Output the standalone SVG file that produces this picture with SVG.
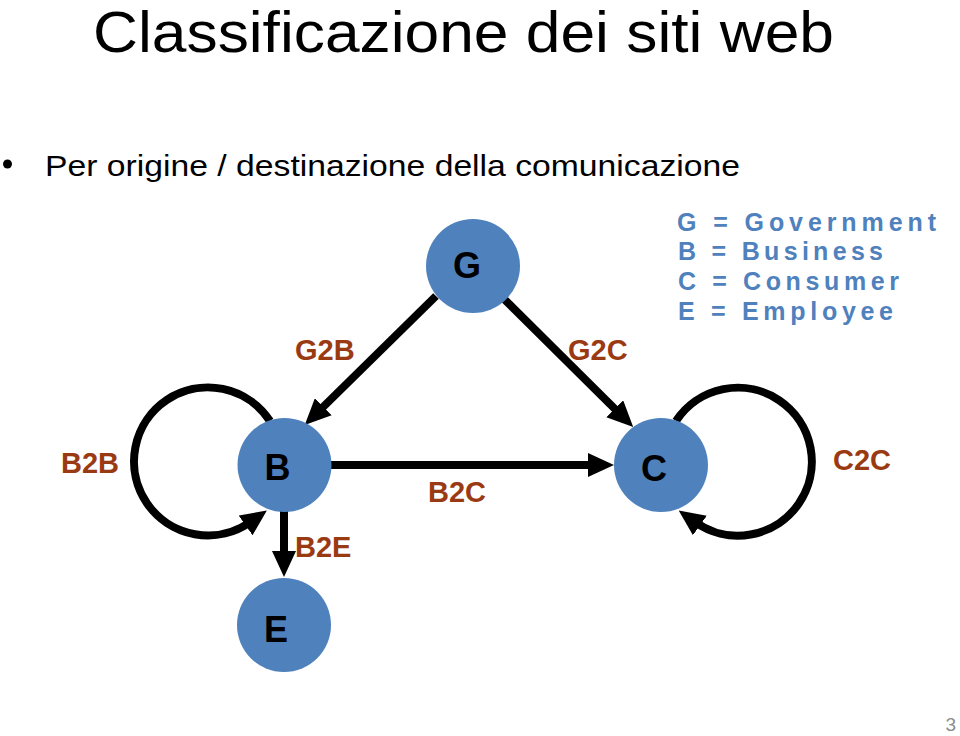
<svg xmlns="http://www.w3.org/2000/svg" width="960" height="736" viewBox="0 0 960 736">
<style>
.node{fill:#4f81bd}
.nl{font-family:"Liberation Sans",Arial,sans-serif;font-weight:bold;font-size:36px;fill:#000;text-anchor:middle}
.lab{font-family:"Liberation Sans",Arial,sans-serif;font-weight:bold;font-size:29px;fill:#9a3a12}
.leg{font-family:"Liberation Sans",Arial,sans-serif;font-weight:bold;font-size:25px;fill:#4f81bd}
.edge{fill:none;stroke:#000;stroke-width:8}
.txt{font-family:"Liberation Sans",Arial,sans-serif;fill:#000}
</style>
<defs>
<marker id="ah" markerUnits="userSpaceOnUse" viewBox="0 0 26 24" markerWidth="26" markerHeight="24" refX="6" refY="12" orient="auto">
<path d="M0,0 L26,12 L0,24 z" fill="#000"/>
</marker>
</defs>
<rect width="960" height="736" fill="#fff"/>
<text class="txt" x="93" y="52" font-size="57" textLength="741" lengthAdjust="spacingAndGlyphs">Classificazione dei siti web</text>
<circle cx="7.5" cy="164" r="4.5" fill="#000"/>
<text class="txt" x="45" y="176" font-size="30" textLength="695" lengthAdjust="spacingAndGlyphs">Per origine / destinazione della comunicazione</text>
<g id="legend">
<text class="leg" x="677" y="231" textLength="259" lengthAdjust="spacing">G = Government</text>
<text class="leg" x="678" y="260" textLength="205" lengthAdjust="spacing">B = Business</text>
<text class="leg" x="678" y="290" textLength="221" lengthAdjust="spacing">C = Consumer</text>
<text class="leg" x="678" y="320" textLength="215" lengthAdjust="spacing">E = Employee</text>
</g>
<g id="connectors">
<path class="edge" d="M436,296 L319,411" marker-end="url(#ah)"/>
<path class="edge" d="M502,297 L619,413" marker-end="url(#ah)"/>
<path class="edge" d="M331,465 L594,465" marker-end="url(#ah)"/>
<path class="edge" d="M284,510 L284,557" marker-end="url(#ah)"/>
<path class="edge" d="M270,421 A74,74 0 1 0 250.5,522" marker-end="url(#ah)"/>
<path class="edge" d="M676,421 A74,74 0 1 1 695,522" marker-end="url(#ah)"/>
</g>
<g id="labels">
<text class="lab" x="295" y="360">G2B</text>
<text class="lab" x="568" y="360">G2C</text>
<text class="lab" x="61" y="473">B2B</text>
<text class="lab" x="833" y="470">C2C</text>
<text class="lab" x="428" y="502">B2C</text>
<text class="lab" x="295" y="557">B2E</text>
</g>
<g id="node-G"><circle class="node" cx="473" cy="266" r="47"/><text class="nl" x="467" y="278">G</text></g>
<g id="node-B"><circle class="node" cx="284.5" cy="465" r="47"/><text class="nl" x="277.5" y="480">B</text></g>
<g id="node-C"><circle class="node" cx="661" cy="465" r="47"/><text class="nl" x="654" y="481">C</text></g>
<g id="node-E"><circle class="node" cx="284" cy="625" r="47"/><text class="nl" x="276" y="642">E</text></g>
<text x="956" y="731" font-family="'Liberation Sans',Arial,sans-serif" font-size="19" fill="#8c8c8c" text-anchor="end">3</text>
</svg>
